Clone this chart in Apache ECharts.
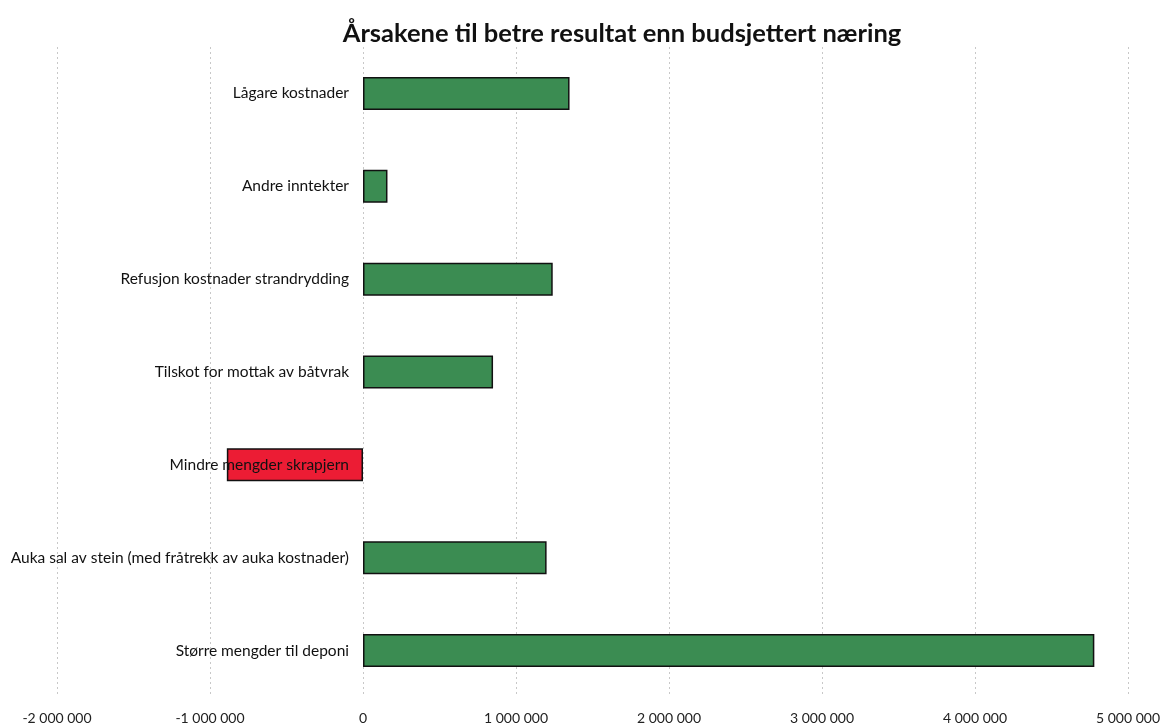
<!DOCTYPE html>
<html>
<head>
<meta charset="utf-8">
<script src="https://cdn.jsdelivr.net/npm/echarts@6/dist/echarts.min.js"></script>
<style>
html,body{margin:0;padding:0;background:#fff;}
#c{width:1164px;height:728px;}
</style>
</head>
<body>
<div id="c"></div>
<script>
const categories = [
  "Lågare kostnader",
  "Andre inntekter",
  "Refusjon kostnader strandrydding",
  "Tilskot for mottak av båtvrak",
  "Mindre mengder skrapjern",
  "Auka sal av stein (med fråtrekk av auka kostnader)",
  "Større mengder til deponi"
];
const values = [1350000, 160000, 1240000, 850000, -890000, 1200000, 4780000];
const title = "Årsakene til betre resultat enn budsjettert næring";
const xMin = -2000000, xMax = 5000000, xStep = 1000000;

const gridLeft = 57;
const chart = echarts.init(document.getElementById('c'), null, {renderer: 'canvas'});
function fmt(v){
  const s = Math.abs(v).toString().replace(/\B(?=(\d{3})+(?!\d))/g, ' ');
  return (v < 0 ? '-' : '') + s;
}
chart.setOption({
  animation: false,
  backgroundColor: '#ffffff',
  title: {
    text: title,
    left: 617, textAlign: 'center', top: 16,
    textStyle: {fontFamily: 'Lato', fontWeight: 'bold', fontSize: 25.5, color: '#111'}
  },
  grid: {left: gridLeft, right: 36, top: 47, bottom: 31, containLabel: false, outerBoundsMode: 'none'},
  xAxis: {
    type: 'value', min: xMin, max: xMax, interval: xStep,
    axisLine: {show: false}, axisTick: {show: false},
    splitLine: {show: true, lineStyle: {color: '#c8c8c8', type: [2, 3], width: 1}},
    axisLabel: {formatter: fmt, fontFamily: 'Lato', fontSize: 14, color: '#222', margin: 14}
  },
  yAxis: {
    type: 'category', data: categories, inverse: true, z: 5, position: 'left',
    axisLine: {show: false},
    axisTick: {show: false},
    splitLine: {show: false},
    axisLabel: {fontFamily: 'Lato', fontSize: 15.5, color: '#111', margin: 14}
  },
  series: [{
    type: 'bar',
    data: values.map(v => ({
      value: v,
      itemStyle: {color: v < 0 ? '#ec1c34' : '#3b8c52'}
    })),
    barWidth: 33,
    itemStyle: {borderColor: '#111', borderWidth: 1.5},
    z: 1
  }]
});
// place the category axis at x = 0 of the value scale
const zeroX = chart.convertToPixel({xAxisIndex: 0}, 0);
chart.setOption({yAxis: {offset: -(zeroX - gridLeft)}});
</script>
</body>
</html>
